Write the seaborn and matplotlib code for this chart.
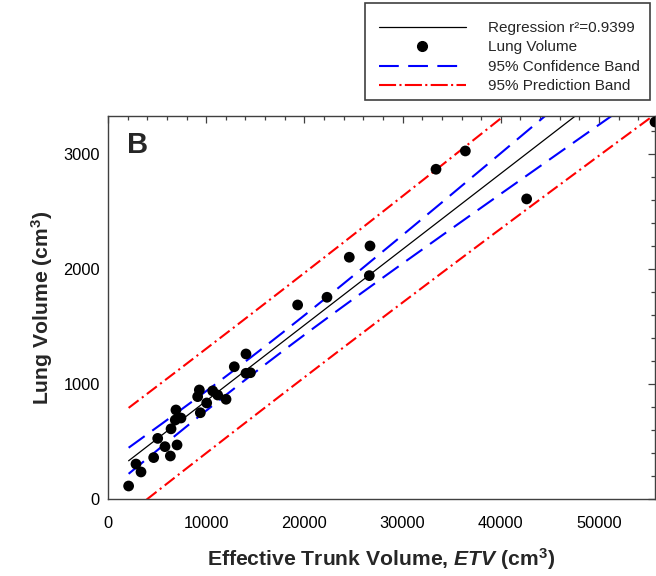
import numpy as np
import pandas as pd
import matplotlib
matplotlib.use("Agg")
import matplotlib.pyplot as plt
import seaborn as sns
from matplotlib.ticker import MultipleLocator
from matplotlib.lines import Line2D
from matplotlib.patches import Rectangle

# ---- data ----
etv = [2100, 2850, 3360, 4650, 5060, 5800, 6350, 7030, 6420, 6850, 6920, 7430,
       9300, 9130, 9400, 10050, 10660, 11170, 12020, 12860, 14050, 14050, 14500,
       19310, 22300, 24570, 26680, 26610, 33400, 36390, 42630, 55700]
lung = [113, 304, 235, 360, 527, 455, 374, 470, 610, 687, 774, 704,
        948, 890, 750, 835, 940, 904, 867, 1150, 1261, 1093, 1098,
        1687, 1754, 2102, 2200, 1942, 2867, 3026, 2609, 3278]
x_ticks = [0, 10000, 20000, 30000, 40000, 50000]
y_ticks = [0, 1000, 2000, 3000]
legend_labels = ["Regression r\u00b2=0.9399", "Lung Volume",
                 "95% Confidence Band", "95% Prediction Band"]
x_label = r"Effective Trunk Volume, $\mathit{ETV}$ (cm$^{3}$)"
y_label = r"Lung Volume (cm$^{3}$)"
panel_label = "B"

# ---- style ----
sns.set_style("white")
plt.rcParams['font.family'] = ['Liberation Sans', 'DejaVu Sans']
plt.rcParams['mathtext.fontset'] = 'custom'
plt.rcParams['mathtext.default'] = 'regular'
plt.rcParams['mathtext.it'] = 'Liberation Sans:italic:bold'
plt.rcParams['mathtext.rm'] = 'Liberation Sans'
plt.rcParams['mathtext.bf'] = 'Liberation Sans:bold'

df = pd.DataFrame({"etv": etv, "lung": lung})

# ---- regression and 95% bands ----
x = df["etv"].to_numpy(float)
y = df["lung"].to_numpy(float)
n = len(x)
slope, intercept = np.polyfit(x, y, 1)
resid = y - (slope * x + intercept)
s = np.sqrt(np.sum(resid ** 2) / (n - 2))
try:
    from scipy import stats
    tval = stats.t.ppf(0.975, n - 2)
except Exception:
    tval = 2.042
xm = x.mean()
sxx = np.sum((x - xm) ** 2)
xg = np.linspace(x.min(), 62000, 400)
yg = slope * xg + intercept
ci = tval * s * np.sqrt(1 / n + (xg - xm) ** 2 / sxx)
pi = tval * s * np.sqrt(1 + 1 / n + (xg - xm) ** 2 / sxx)
lines = pd.DataFrame({"x": xg, "fit": yg, "ci_lo": yg - ci, "ci_hi": yg + ci,
                      "pi_lo": yg - pi, "pi_hi": yg + pi})

fig = plt.figure(figsize=(6.56, 5.76), dpi=100)
ax = fig.add_axes([108 / 656, 77 / 576, 547 / 656, 383 / 576])

blue_ls = (0, (9.5, 4.5))
red_ls = (0, (6.0, 2.0, 1.0, 2.0))

sns.lineplot(data=lines, x="x", y="fit", color="black", lw=0.9, ax=ax, sort=False)
sns.lineplot(data=lines, x="x", y="ci_hi", color="#0000ff", lw=1.5, linestyle=blue_ls, ax=ax, sort=False)
sns.lineplot(data=lines, x="x", y="ci_lo", color="#0000ff", lw=1.5, linestyle=blue_ls, ax=ax, sort=False)
sns.lineplot(data=lines, x="x", y="pi_hi", color="#ff0000", lw=1.5, linestyle=red_ls, ax=ax, sort=False)
sns.lineplot(data=lines, x="x", y="pi_lo", color="#ff0000", lw=1.5, linestyle=red_ls, ax=ax, sort=False)
sns.scatterplot(data=df, x="etv", y="lung", color="black", s=60, edgecolor="none",
                ax=ax, zorder=5, clip_on=True)

ax.set_xlim(0, 55700)
ax.set_ylim(0, 3330)
ax.set_xticks(x_ticks)
ax.set_yticks(y_ticks)
ax.set_xticklabels([str(v) for v in x_ticks])
ax.set_yticklabels([str(v) for v in y_ticks])
ax.xaxis.set_minor_locator(MultipleLocator(2000))
ax.yaxis.set_minor_locator(MultipleLocator(200))
ax.tick_params(which="both", direction="in", top=True, right=True, color="#404040", width=0.9)
ax.tick_params(which="major", length=5, labelsize=11.8, labelcolor="black")
ax.tick_params(which="minor", length=3)
ax.tick_params(axis="x", which="major", pad=12)
ax.tick_params(axis="y", which="major", pad=6)
for sp in ax.spines.values():
    sp.set_visible(True)
    sp.set_color("#404040")
    sp.set_linewidth(1.0)

ax.set_xlabel(x_label, fontsize=15.2, fontweight="bold")
ax.set_ylabel(y_label, fontsize=15.2, fontweight="bold")
ax.xaxis.set_label_coords(0.5, -0.122)
ax.yaxis.set_label_coords(-0.097, 0.5)

ax.text(0.035, 0.903, panel_label, transform=ax.transAxes, fontsize=21,
        fontweight="bold", ha="left", va="baseline")

# legend box (drawn as a figure rectangle) and legend entries
fig.add_artist(Rectangle((365 / 656, 1 - 100 / 576), 285 / 656, 97 / 576,
                         transform=fig.transFigure, facecolor="white",
                         edgecolor="#404040", lw=1.2, zorder=4))
h = [Line2D([], [], color="black", lw=0.9),
     Line2D([], [], color="black", marker="o", ls="none", markersize=7),
     Line2D([], [], color="#0000ff", lw=1.5, linestyle=blue_ls),
     Line2D([], [], color="#ff0000", lw=1.5, linestyle=(0, (8.2, 1.6, 1.0, 1.6)))]
leg = fig.legend(h, legend_labels, loc="upper left",
                 bbox_to_anchor=(379 / 656, 1 - 21 / 576), bbox_transform=fig.transFigure,
                 borderaxespad=0, borderpad=0, fontsize=11, handlelength=5.69,
                 labelspacing=0.36, handletextpad=1.44, frameon=False)
leg.set_zorder(6)

fig.savefig("out.png", dpi=100)
